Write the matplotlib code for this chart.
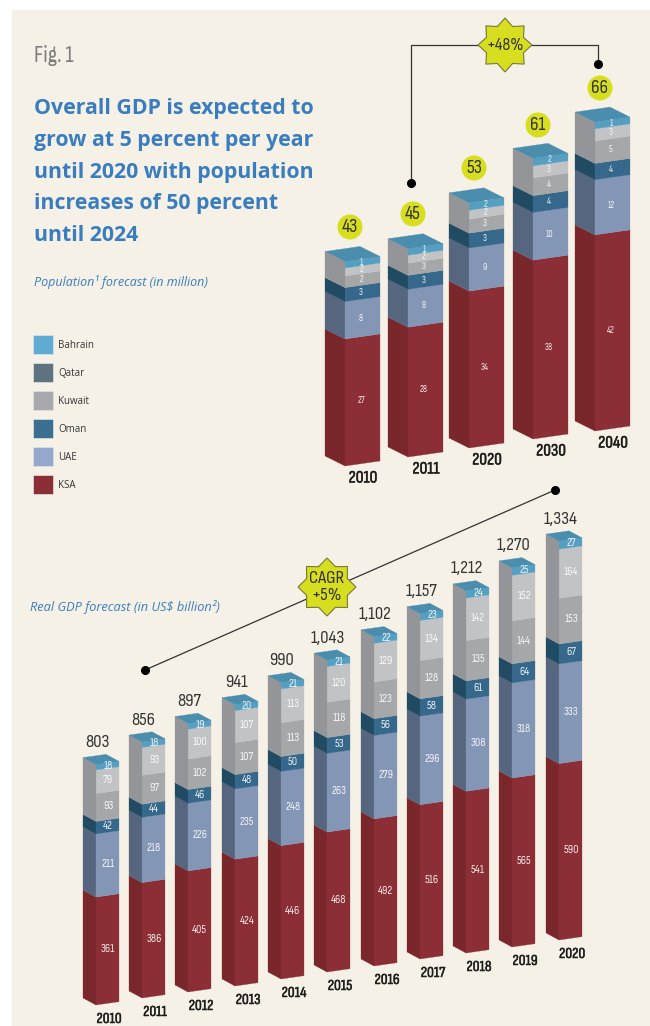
import numpy as np
import matplotlib
matplotlib.use("Agg")
import matplotlib.pyplot as plt
import matplotlib.patheffects as pe
from matplotlib.patches import Polygon, Circle, Rectangle
import logging
logging.getLogger("matplotlib.font_manager").setLevel(logging.ERROR)

# ---------- data ----------
series = ["KSA", "UAE", "Oman", "Kuwait", "Qatar", "Bahrain"]
pop_years = ["2010", "2011", "2020", "2030", "2040"]
pop_totals = [43, 45, 53, 61, 66]
# unrounded estimates; printed labels are the rounded figures
pop_ksa = [27.2, 27.8, 33.6, 38.3, 42.0]
pop_uae = [8.0, 8.1, 9.2, 10.2, 11.8]
pop_oman = [3.0, 3.0, 3.2, 3.6, 3.5]
pop_kuwait = [2.5, 2.6, 3.0, 3.8, 4.8]
pop_qatar = [1.7, 1.7, 1.9, 2.6, 2.6]
pop_bahrain = [1.4, 1.4, 1.6, 1.6, 1.45]

gdp_years = ["2010", "2011", "2012", "2013", "2014", "2015", "2016", "2017", "2018", "2019", "2020"]
gdp_totals = ["803", "856", "897", "941", "990", "1,043", "1,102", "1,157", "1,212", "1,270", "1,334"]
gdp_ksa = [361, 386, 405, 424, 446, 468, 492, 516, 541, 565, 590]
gdp_uae = [211, 218, 226, 235, 248, 263, 279, 296, 308, 318, 333]
gdp_oman = [42, 44, 46, 48, 50, 53, 56, 58, 61, 64, 67]
gdp_kuwait = [93, 97, 102, 107, 113, 118, 123, 128, 135, 144, 153]
gdp_qatar = [79, 93, 100, 107, 113, 120, 129, 134, 142, 152, 164]
gdp_bahrain = [18, 18, 19, 20, 21, 21, 22, 23, 24, 25, 27]

title_lines = ["Overall GDP is expected to", "grow at 5 percent per year",
               "until 2020 with population", "increases of 50 percent", "until 2024"]

# ---------- styles ----------
CREAM = "#F6F1E6"
LIME = "#D6DE1F"
right_c = ["#8B2E35", "#8496B6", "#35688A", "#A6A7A9", "#C2C3C4", "#559FC3"]
left_c = ["#7A272C", "#56667F", "#214A63", "#939598", "#939598", "#939598"]
top_c = "#4A8DAD"
legend_c = {"Bahrain": "#5FABD2", "Qatar": "#5E7280", "Kuwait": "#A8A9AD",
            "Oman": "#3C6E91", "UAE": "#93A8CC", "KSA": "#8B2E35"}
NARROW = ["Sofia Sans Condensed", "Roboto", "DejaVu Sans"]
BLUE = "#3A7DBE"
BOLDER = [pe.withStroke(linewidth=0.35, foreground="#1d1d1b")]

fig = plt.figure(figsize=(6.5, 10.26), dpi=100, facecolor="white")
ax = fig.add_axes([0, 0, 1, 1])
ax.set_xlim(0, 650)
ax.set_ylim(1026, 0)
ax.axis("off")
ax.add_patch(Rectangle((12, 10), 638, 1016, fc=CREAM, ec="none", zorder=0))


def draw_bar(fx, fy, vals, scale, lw, ldy, rw, rdy, fs, lx):
    """Isometric stacked column: fx, fy = front bottom corner."""
    h = 0.0
    for i, v in enumerate(vals):
        h0, h1 = h * scale, (h + v) * scale
        if i < 3:
            ax.add_patch(Polygon([(fx - lw, fy - ldy - h0), (fx, fy - h0), (fx, fy - h1), (fx - lw, fy - ldy - h1)],
                                 fc=left_c[i], ec=left_c[i], lw=0.2, zorder=2))
        ax.add_patch(Polygon([(fx, fy - h0), (fx + rw, fy - rdy - h0), (fx + rw, fy - rdy - h1), (fx, fy - h1)],
                             fc=right_c[i], ec=right_c[i], lw=0.2, zorder=2))
        ax.text(fx + lx, fy - (h0 + h1) / 2 - rdy * lx / rw, str(int(round(v))), color="white", fontsize=fs,
                ha="center", va="center", family=NARROW, zorder=4, alpha=0.9)
        h += v
        if i == 2:
            h_oman = h * scale
    t = fy - h * scale
    # the three upper series share one grey side face
    ax.add_patch(Polygon([(fx - lw, fy - ldy - h_oman), (fx, fy - h_oman), (fx, t), (fx - lw, t - ldy)],
                         fc=left_c[3], ec=left_c[3], lw=0.2, zorder=2))
    ax.add_patch(Polygon([(fx, t), (fx + rw, t - rdy), (fx + rw - lw, t - rdy - ldy), (fx - lw, t - ldy)],
                         fc=top_c, ec=top_c, lw=0.2, zorder=3))
    return t


def star(cx, cy, r_out, r_in, fc):
    a = np.deg2rad(np.arange(16) * 22.5 - 90)
    r = np.where(np.arange(16) % 2 == 0, r_out, r_in)
    ax.add_patch(Polygon(np.c_[cx + r * np.cos(a), cy + r * np.sin(a)], fc=fc, ec="#77783A", lw=0.8, zorder=6))


# ---------- population columns ----------
pop_fx = [345, 408, 469, 533, 595]
pop_fy = [466, 457, 448, 439, 431]
pop_circle_y = [227, 214, 168, 125, 88]
pop_vals = np.array([pop_ksa, pop_uae, pop_oman, pop_kuwait, pop_qatar, pop_bahrain]).T
for j, yr in enumerate(pop_years):
    draw_bar(pop_fx[j], pop_fy[j], pop_vals[j], 4.67, 20, 10, 35, 5, 6.8, 16)
    ax.text(pop_fx[j] + 18, pop_fy[j] + 12, yr, fontsize=12.5, family=NARROW, color="#1d1d1b",
            ha="center", va="center", zorder=5, path_effects=BOLDER)
    cx = pop_fx[j] + 5
    ax.add_patch(Circle((cx, pop_circle_y[j]), 12.5, fc=LIME, ec="none", zorder=5))
    ax.text(cx, pop_circle_y[j], str(pop_totals[j]), fontsize=14, family=NARROW, color="#333",
            ha="center", va="center", zorder=6)

# bracket
ax.plot([411, 411, 598, 598], [183, 45, 45, 64], color="#333", lw=0.9, zorder=5)
ax.plot([411, 598], [183, 64], "o", color="black", ms=5.5, zorder=6)
star(505, 45, 27, 20, LIME)
ax.text(505, 45, "+48%", fontsize=13, family=NARROW, color="#333", ha="center", va="center", zorder=7)

# ---------- GDP columns ----------
gdp_fx = [96, 142, 188, 235, 281, 327, 374, 420, 466, 512, 559]
gdp_fy = [1005, 998, 992, 986, 979, 972, 966, 959, 953, 947, 940]
gdp_vals = np.array([gdp_ksa, gdp_uae, gdp_oman, gdp_kuwait, gdp_qatar, gdp_bahrain]).T
for j, yr in enumerate(gdp_years):
    t = draw_bar(gdp_fx[j], gdp_fy[j], gdp_vals[j], 0.299, 13, 7, 23, 3.3, 8.5, 12)
    ax.text(gdp_fx[j] + 1, t - 22, gdp_totals[j], fontsize=13.5, family=NARROW, color="#333",
            ha="center", va="center", zorder=5)
    ax.text(gdp_fx[j] + 13, gdp_fy[j] + 14, yr, fontsize=11, family=NARROW, weight="bold", color="#1d1d1b",
            ha="center", va="center", zorder=5, path_effects=BOLDER)

ax.plot([145, 555], [670, 490], color="#333", lw=0.9, zorder=5)
ax.plot([145, 555], [670, 490], "o", color="black", ms=5.5, zorder=6)
star(327, 587, 29, 22, LIME)
ax.text(327, 587, "CAGR\n+5%", fontsize=13.5, family=NARROW, color="#333", ha="center", va="center",
        linespacing=1.1, zorder=7)

# ---------- text ----------
ax.text(34, 56, "Fig. 1", fontsize=17, family=NARROW, color="#7d7d7d", va="center")
for k, line in enumerate(title_lines):
    ax.text(34, 108.5 + k * 31.8, line, fontsize=15.3, family="Open Sans", weight="bold", color=BLUE, va="center")
ax.text(34, 282, "Population\u00b9 forecast (in million)", fontsize=9, family="Open Sans", style="italic",
        color=BLUE, va="center")
ax.text(30, 607, "Real GDP forecast (in US$ billion\u00b2)", fontsize=9.2, family="Open Sans", style="italic",
        color=BLUE, va="center")

# ---------- legend ----------
legend_y = [344, 372, 400, 428, 456, 484]
for name, y in zip(series[::-1], legend_y):
    ax.add_patch(Rectangle((33, y - 9.5), 20, 19, fc=legend_c[name], ec="#dfe3e3", lw=0.5, zorder=2))
    ax.text(58, y + 2, name, fontsize=7, family="Open Sans", color="#333", va="center")

fig.savefig("out.png", dpi=100, facecolor="white")
